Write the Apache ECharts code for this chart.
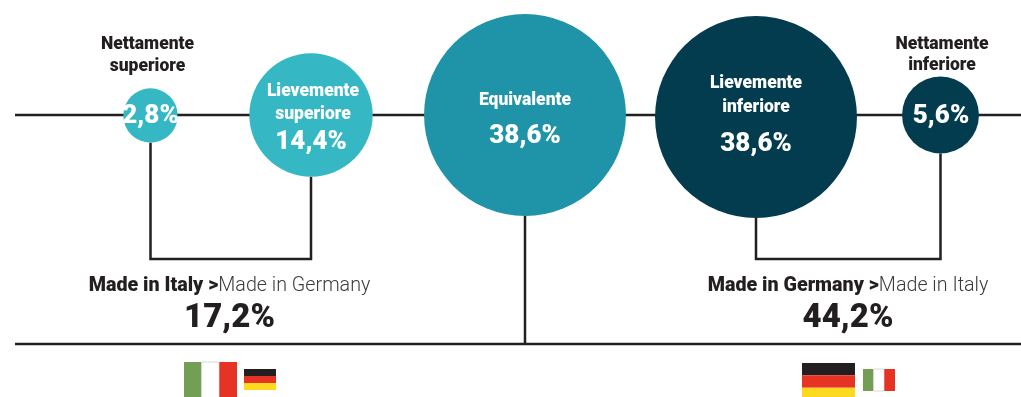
<!DOCTYPE html>
<html><head><meta charset="utf-8">
<style>html,body{margin:0;padding:0;background:#fff}#c{width:1021px;height:397px}</style>
<script src="https://cdn.jsdelivr.net/npm/echarts@6/dist/echarts.min.js"></script>
</head><body><div id="c"></div>
<script>
// Data
const levels = [["Nettamente","superiore"],["Lievemente","superiore"],["Equivalente"],["Lievemente","inferiore"],["Nettamente","inferiore"]];
const shares = [2.8, 14.4, 38.6, 38.6, 5.6];
const summaryLead = ["Made in Italy >", "Made in Germany >"];
const summaryRest = ["Made in Germany", "Made in Italy"];
const summaryShares = [17.2, 44.2];

// Layout (axis units)
const bubbleX = [150.5, 311, 525, 756, 940.5];
const bubbleY = [115.5, 115, 115, 117, 115];
const sizePerRootShare = 32.5;
const baseline = 115, floor = 344, bracketY = 259;
const fmt = v => v.toFixed(1).replace('.', ',') + '%';
const radius = i => sizePerRootShare * Math.sqrt(shares[i]) / 2;
const bottom = i => bubbleY[i] + radius(i);

const INK = '#231f20';
const FONT = 'Roboto';
const colors = ['#35b8c4', '#35b8c4', '#1f93a8', '#033c4f', '#033c4f'];

const rules = [
  [[15, baseline], [1021, baseline]],
  [[15, floor], [1021, floor]],
  [[bubbleX[2], bottom(2)], [bubbleX[2], floor]],
  [[bubbleX[0], bottom(0)], [bubbleX[0], bracketY], [bubbleX[1], bracketY], [bubbleX[1], bottom(1)]],
  [[bubbleX[3], bottom(3)], [bubbleX[3], bracketY], [bubbleX[4], bracketY], [bubbleX[4], bottom(4)]]
];

const W = {color:'#fff', fontFamily:FONT};
const labelRows = [
  [147.5, 45, levels[0][0], 'darkHead'], [147.5, 67, levels[0][1], 'darkHead'],
  [150.5, 116, fmt(shares[0]), 'val'],
  [313, 92, levels[1][0], 'head'], [313, 115, levels[1][1], 'head'], [311, 142, fmt(shares[1]), 'val'],
  [525, 101, levels[2][0], 'head'], [525, 136, fmt(shares[2]), 'val'],
  [756, 84, levels[3][0], 'head'], [756, 108, levels[3][1], 'head'], [756, 144.5, fmt(shares[3]), 'val'],
  [942, 45, levels[4][0], 'darkHead'], [942, 66, levels[4][1], 'darkHead'],
  [941, 116, fmt(shares[4]), 'val'],
  [229.5, 286, '{lead|' + summaryLead[0] + '}{rest|' + summaryRest[0] + '}', null],
  [229.5, 319, fmt(summaryShares[0]), 'big'],
  [848, 286, '{lead|' + summaryLead[1] + '}{rest|' + summaryRest[1] + '}', null],
  [848, 319, fmt(summaryShares[1]), 'big']
];
const rich = {
  head:{...W, fontSize:17.5, fontWeight:900},
  darkHead:{color:INK, fontFamily:FONT, fontSize:17.5, fontWeight:900},
  val:{...W, fontSize:26, fontWeight:900},
  big:{color:INK, fontFamily:FONT, fontSize:33, fontWeight:900},
  lead:{color:INK, fontFamily:FONT, fontSize:19.7, fontWeight:900},
  rest:{color:'#3c3c3c', fontFamily:FONT, fontSize:19.7, fontWeight:300}
};

const IT = ['#759e55', '#ffffff', '#e63323'];
const DE = [INK, '#e63323', '#fdd922'];
const flags = [
  [184, 237, 362, 400, IT, true],
  [244, 276, 369, 390, DE, false],
  [802, 855, 363, 400, DE, false],
  [863, 895, 369, 391, IT, true]
];
const stripeData = [];
flags.forEach(([x0, x1, y0, y1, c, v]) => c.forEach((col, k) => {
  const a = k / 3, b = (k + 1) / 3;
  stripeData.push(v
    ? [x0 + (x1 - x0) * a, x0 + (x1 - x0) * b, y0, y1, col]
    : [x0, x1, y0 + (y1 - y0) * a, y0 + (y1 - y0) * b, col]);
}));

const chart = echarts.init(document.getElementById('c'), null, {renderer:'canvas'});
chart.setOption({
  animation:false,
  backgroundColor:'#fff',
  grid:{left:0, right:0, top:0, bottom:0},
  xAxis:{type:'value', min:0, max:1021, show:false},
  yAxis:{type:'value', min:0, max:397, inverse:true, show:false},
  tooltip:{show:false},
  series:[
    ...rules.map(r => ({type:'line', data:r, symbol:'none', silent:true, z:1,
      lineStyle:{color:INK, width:2.5, cap:'butt', join:'miter'}})),
    {type:'custom', z:1, silent:true, data:stripeData,
      encode:{x:[0,1], y:[2,3]},
      renderItem:(p, api) => {
        const a = api.coord([api.value(0), api.value(2)]);
        const b = api.coord([api.value(1), api.value(3)]);
        const col = stripeData[p.dataIndex][4];
        return {type:'rect', shape:{x:a[0], y:a[1], width:b[0]-a[0], height:b[1]-a[1]},
          style:{fill:col, stroke:col === '#ffffff' ? '#d8d8d8' : null, lineWidth:1}};
      }},
    {type:'scatter', z:3, silent:true,
      data:shares.map((s, i) => ({value:[bubbleX[i], bubbleY[i], s], itemStyle:{color:colors[i], opacity:1}})),
      symbolSize:d => sizePerRootShare * Math.sqrt(d[2])},
    {type:'scatter', z:5, silent:true, symbolSize:1, itemStyle:{opacity:0},
      data:labelRows.map(r => ({value:[r[0], r[1]],
        label:{show:true, opacity:1, position:'inside', align:'center', verticalAlign:'middle',
          formatter:r[3] ? '{' + r[3] + '|' + r[2] + '}' : r[2], rich}}))}
  ]
});
</script></body></html>
